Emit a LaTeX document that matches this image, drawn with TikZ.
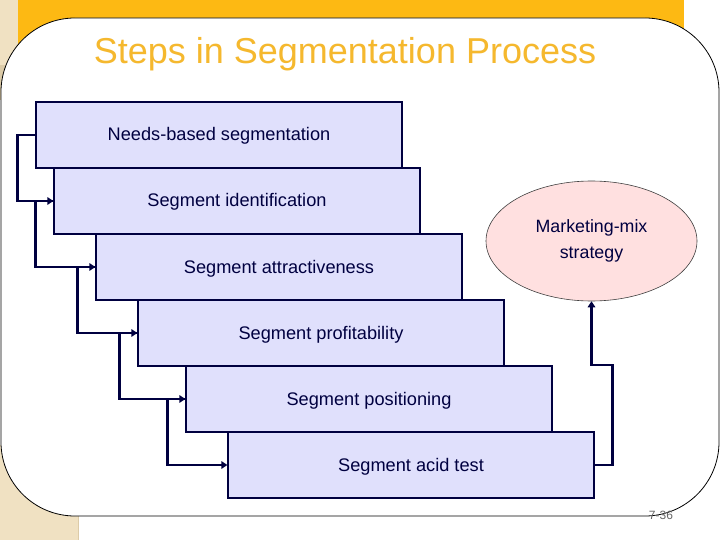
\documentclass[tikz,border=0pt]{standalone}
\usepackage{fontspec}
\setmainfont{Liberation Sans}
\usetikzlibrary{shapes.geometric,arrows.meta}
\definecolor{gold}{HTML}{F5B82E}
\definecolor{band}{HTML}{FDB913}
\definecolor{beige}{HTML}{F0E1C2}
\definecolor{beigedark}{HTML}{DCCBA8}
\definecolor{boxfill}{HTML}{E0E0FC}
\definecolor{navy}{HTML}{000040}
\definecolor{pinkfill}{HTML}{FFE0E0}
\begin{document}
\begin{tikzpicture}[x=1pt,y=-1pt,
  stepbox/.style={draw=navy,line width=1.2pt,fill=boxfill,minimum width=366pt,minimum height=66pt,inner sep=0pt,text height=12pt,text depth=0pt,font=\fontsize{18.2}{21}\selectfont,text=navy},
  link/.style={draw=navy,line width=2.8pt,-{Triangle[length=6pt,width=7.5pt]}}]
\useasboundingbox (0,0) rectangle (720,540);
% background
\fill[white] (0,0) rectangle (720,540);
\fill[beige] (0,0) rectangle (18,65);
\fill[beigedark] (0,65) rectangle (18,100);
\fill[band] (18,0) rectangle (684,60);
\fill[beige] (0,445) rectangle (78,540);
\draw[beigedark, line width=1pt] (78,445) -- (78,540);
% card
\draw[fill=white, line width=0.8pt, rounded corners=74pt] (1,18) rectangle (719,516);
% title
\node[text=gold, font=\fontsize{36}{40}\selectfont] (title) at (345,54) {Steps in Segmentation Process};
% steps
\node[stepbox] (b1) at (219,135) {Needs-based segmentation};
\node[stepbox] (b2) at (237,201) {Segment identification};
\node[stepbox] (b3) at (279,267) {Segment attractiveness};
\node[stepbox] (b4) at (321,333) {Segment profitability};
\node[stepbox] (b5) at (369,399) {Segment positioning};
\node[stepbox] (b6) at (411,465) {Segment acid test};
% ellipse
\node[ellipse, draw=black!75, line width=0.6pt, fill=pinkfill, minimum width=211pt, minimum height=120pt, inner sep=0pt, align=center, font=\fontsize{17.8}{26}\selectfont, text=navy] (mix) at (591.5,241) {Marketing-mix\\strategy};
% connectors
\draw[link] (b1.west) -- ++(-18,0) |- (b2.west);
\draw[link] (b2.west) -- ++(-18,0) |- (b3.west);
\draw[link] (b3.west) -- ++(-18,0) |- (b4.west);
\draw[link] (b4.west) -- ++(-18,0) |- (b5.west);
\draw[link] (b5.west) -- ++(-18,0) |- (b6.west);
\draw[link] (b6.east) -- ++(18,0) -- ++(0,-100) -| (mix.south);
% page number
\node[text=black!60, font=\fontsize{12}{14}\selectfont] (pg) at (661,515) {7-36};
\end{tikzpicture}
\end{document}
